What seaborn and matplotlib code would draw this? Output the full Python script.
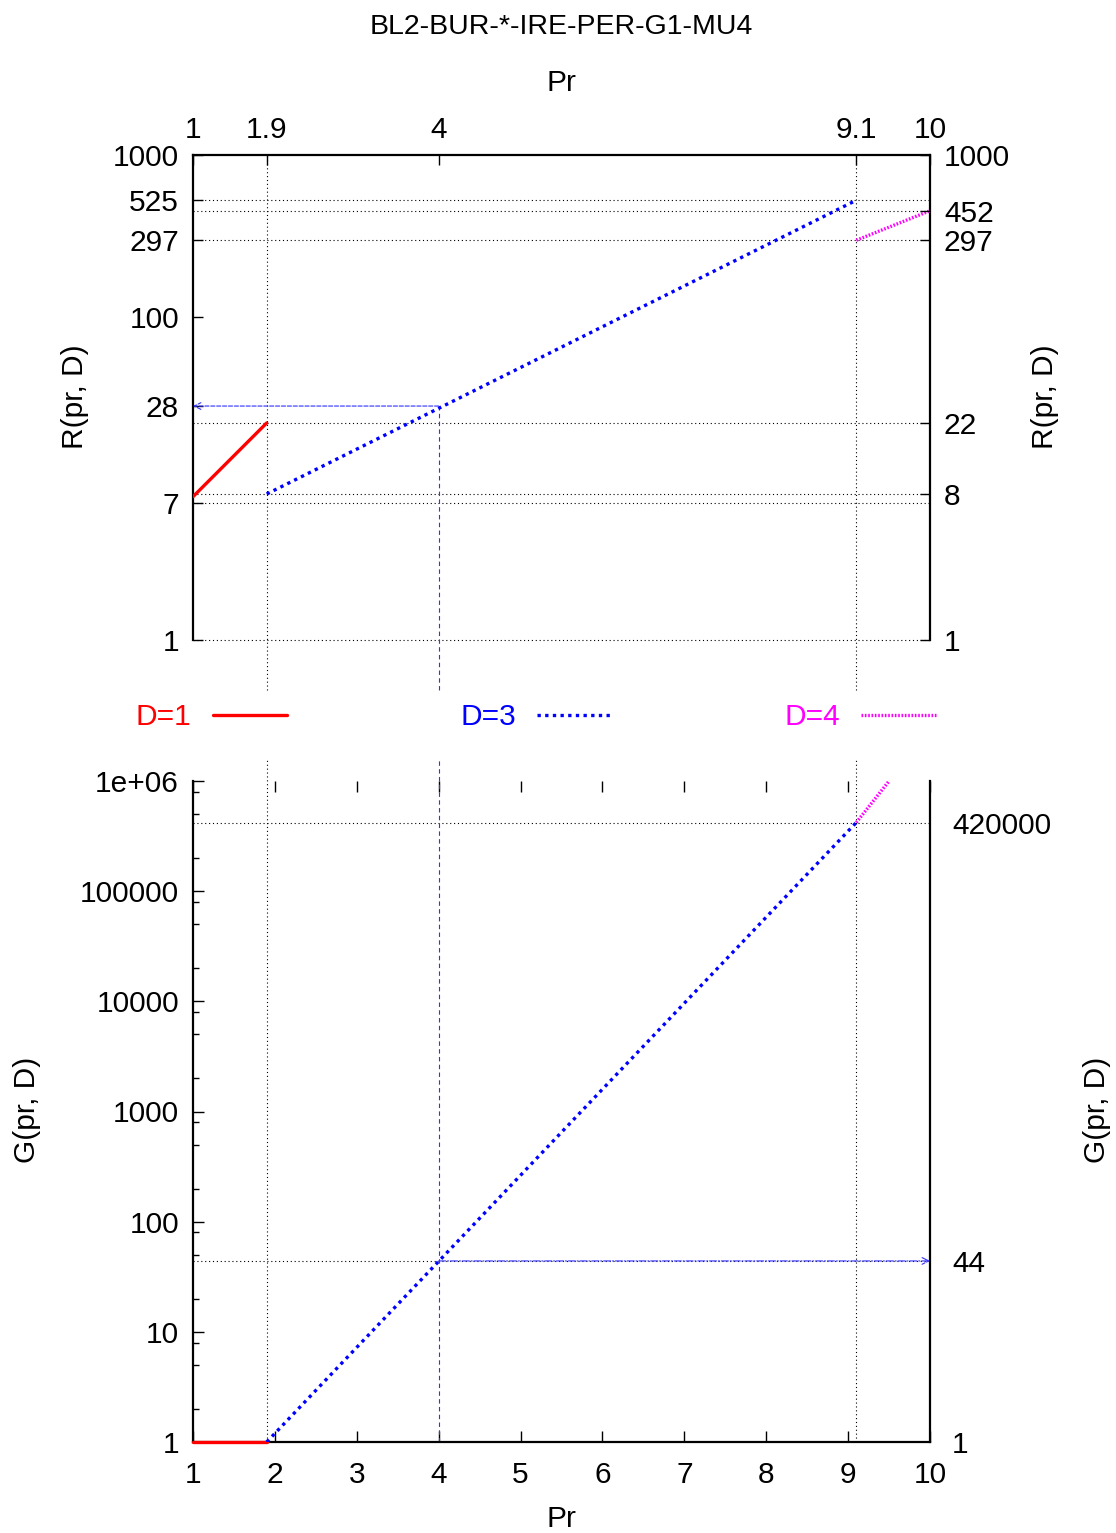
import numpy as np
import pandas as pd
import matplotlib
matplotlib.use("Agg")
import matplotlib.pyplot as plt
import seaborn as sns

# valores
pr_d1 = [1, 1.9]
r_d1 = [7.7, 22]
g_d1 = [1, 1]

pr_d3 = [1.9, 9.1]
r_d3 = [8, 525]
g_d3 = [1, 420000]

pr_d4_r = [9.1, 10]
r_d4 = [297, 452]
pr_d4_g = [9.1, 9.5]
g_d4 = [420000, 1000000]

ref_pr = 4
ref_r = 28
ref_g = 44

r_left_ticks = [1, 7, 28, 100, 297, 525, 1000]
r_right_ticks = [1, 8, 22, 297, 452, 1000]
r_grid = [1, 7, 8, 22, 297, 452, 525]
pr_top_ticks = [1, 1.9, 4, 9.1, 10]
pr_top_labels = ["1", "1.9", "4", "9.1", "10"]
pr_grid = [1.9, 9.1]

pr_ticks = [1, 2, 3, 4, 5, 6, 7, 8, 9, 10]
g_left_ticks = [1, 10, 100, 1000, 10000, 100000, 1000000]
g_left_labels = ["1", "10", "100", "1000", "10000", "100000", "1e+06"]
g_minor_mult = [2, 5, 8]
g_right_ticks = [1, 44, 420000]
g_grid = [44, 420000]

titulo = "BL2-BUR-*-IRE-PER-G1-MU4"

sns.set_style("white")
plt.rcParams['font.family'] = ['Liberation Sans', 'DejaVu Sans']
plt.rcParams['font.size'] = 21.5
for k in ["text.color", "axes.labelcolor", "xtick.color", "ytick.color", "axes.edgecolor"]:
    plt.rcParams[k] = "black"

W, H = 1116, 1533
fig = plt.figure(figsize=(W / 100, H / 100), dpi=100)

def fx(px):
    return px / W

def fy(py):
    return 1 - py / H

ax1 = fig.add_axes([fx(193), fy(640), fx(930) - fx(193), fy(155) - fy(640)])
ax2 = fig.add_axes([fx(193), fy(1442), fx(930) - fx(193), fy(781) - fy(1442)])

estilo_d1 = dict(color="red", linewidth=2.4, linestyle="-")
estilo_d3 = dict(color="blue", linewidth=2.4, linestyle=(0, (1, 1.3)))
estilo_d4 = dict(color="magenta", linewidth=2.4, linestyle=(0, (0.5, 0.5)))
grid_kw = dict(color="black", linewidth=0.8, linestyle=(0, (1, 2.5)))
azul_kw = dict(color="#3030ff", linewidth=0.8, linestyle=(0, (4, 3)))

# ---- panel superior R(pr, D)
ax1.set_yscale("log")
ax1.set_xlim(1, 10)
ax1.set_ylim(1, 1000)

for yv in r_grid:
    ax1.axhline(yv, **grid_kw, zorder=1, clip_on=False)
for xv in pr_grid:
    ax1.axvline(xv, ymin=-50 / 485, ymax=1, clip_on=False, **grid_kw, zorder=1)
ax1.axvline(ref_pr, ymin=-50 / 485, ymax=np.log10(ref_r) / 3, clip_on=False, **azul_kw)
ax1.annotate("", xy=(1, ref_r), xytext=(ref_pr, ref_r),
             arrowprops=dict(arrowstyle="->", color="#3030ff", lw=0.8, linestyle="--",
                             shrinkA=0, shrinkB=0, mutation_scale=12))

sns.lineplot(x=pr_d1, y=r_d1, ax=ax1, **estilo_d1, zorder=3)
sns.lineplot(x=pr_d3, y=r_d3, ax=ax1, **estilo_d3, zorder=3)
sns.lineplot(x=pr_d4_r, y=r_d4, ax=ax1, **estilo_d4, zorder=3)
h1, h3, h4 = ax1.get_lines()[-3:]

ax1.spines["bottom"].set_visible(False)
for s in ["left", "right", "top"]:
    ax1.spines[s].set_linewidth(1.6)
ax1.xaxis.tick_top()
ax1.set_xticks(pr_top_ticks)
ax1.set_xticklabels(pr_top_labels)
ax1.set_yticks(r_left_ticks)
ax1.set_yticklabels([str(v) for v in r_left_ticks])
ax1.yaxis.set_minor_locator(matplotlib.ticker.NullLocator())
ax1.tick_params(axis="x", direction="in", length=7, width=1, pad=8, top=True, bottom=False)
ax1.tick_params(axis="y", direction="in", length=7, width=1, pad=10, left=True, right=True)
ax1.set_xlabel("")
ax1.set_ylabel("")

ax1r = ax1.twinx()
ax1r.set_yscale("log")
ax1r.set_ylim(1, 1000)
ax1r.set_yticks(r_right_ticks)
ax1r.set_yticklabels([str(v) for v in r_right_ticks])
ax1r.yaxis.set_minor_locator(matplotlib.ticker.NullLocator())
ax1r.tick_params(axis="y", direction="in", length=7, width=1, pad=10)
for s in ax1r.spines.values():
    s.set_visible(False)

# ---- panel inferior G(pr, D)
ax2.set_yscale("log")
ax2.set_xlim(1, 10)
ax2.set_ylim(1, 1000000)

for yv in g_grid:
    ax2.axhline(yv, **grid_kw, zorder=1)
for xv in pr_grid:
    ax2.axvline(xv, ymin=0, ymax=1 + 21 / 661, clip_on=False, **grid_kw, zorder=1)
ax2.axvline(ref_pr, ymin=0, ymax=1 + 21 / 661, clip_on=False, **azul_kw)
ax2.annotate("", xy=(10, ref_g), xytext=(ref_pr, ref_g),
             arrowprops=dict(arrowstyle="->", color="#3030ff", lw=0.8, linestyle="-.",
                             shrinkA=0, shrinkB=0, mutation_scale=12))

sns.lineplot(x=pr_d1, y=g_d1, ax=ax2, **estilo_d1, zorder=3, clip_on=False)
sns.lineplot(x=pr_d3, y=g_d3, ax=ax2, **estilo_d3, zorder=3)
sns.lineplot(x=pr_d4_g, y=g_d4, ax=ax2, **estilo_d4, zorder=3)

ax2.spines["top"].set_visible(False)
for s in ["left", "right", "bottom"]:
    ax2.spines[s].set_linewidth(1.6)
ax2.set_xticks(pr_ticks)
ax2.set_xticklabels([str(v) for v in pr_ticks])
ax2.set_yticks(g_left_ticks)
ax2.set_yticklabels(g_left_labels)
minors = [m * 10 ** k for k in range(6) for m in g_minor_mult]
ax2.set_yticks(minors, minor=True)
ax2.yaxis.set_minor_formatter(matplotlib.ticker.NullFormatter())
ax2.tick_params(axis="x", direction="in", length=8, width=1, pad=14, top=True, bottom=True)
ax2.tick_params(axis="y", which="major", direction="in", length=8, width=1, pad=10, left=True, right=True)
ax2.tick_params(axis="y", which="minor", direction="in", length=4, width=1, left=True, right=True)
ax2.set_xlabel("")
ax2.set_ylabel("")

ax2r = ax2.twinx()
ax2r.set_yscale("log")
ax2r.set_ylim(1, 1000000)
ax2r.set_yticks(g_right_ticks)
ax2r.set_yticklabels([str(v) for v in g_right_ticks])
ax2r.yaxis.set_minor_locator(matplotlib.ticker.NullLocator())
ax2r.tick_params(axis="y", direction="in", length=0, pad=16)
for s in ax2r.spines.values():
    s.set_visible(False)

# ---- textos
fig.text(fx(561), fy(27), titulo, ha="center", va="center", fontsize=20.5)
fig.text(fx(561), fy(83), "Pr", ha="center", va="center")
fig.text(fx(561), fy(1519), "Pr", ha="center", va="center")
fig.text(fx(75), fy(397), "R(pr, D)", rotation=90, ha="center", va="center")
fig.text(fx(1045), fy(397), "R(pr, D)", rotation=90, ha="center", va="center")
fig.text(fx(27), fy(1110), "G(pr, D)", rotation=90, ha="center", va="center")
fig.text(fx(1097), fy(1110), "G(pr, D)", rotation=90, ha="center", va="center")

leg = fig.legend([h1, h3, h4], ["D=1", "D=3", "D=4"], loc="center",
                 bbox_to_anchor=(fx(536), fy(717)), ncol=3, frameon=False,
                 markerfirst=False, handlelength=2.5, handletextpad=0.7,
                 columnspacing=5.8, labelcolor="linecolor")

fig.savefig("out.png", dpi=100)
